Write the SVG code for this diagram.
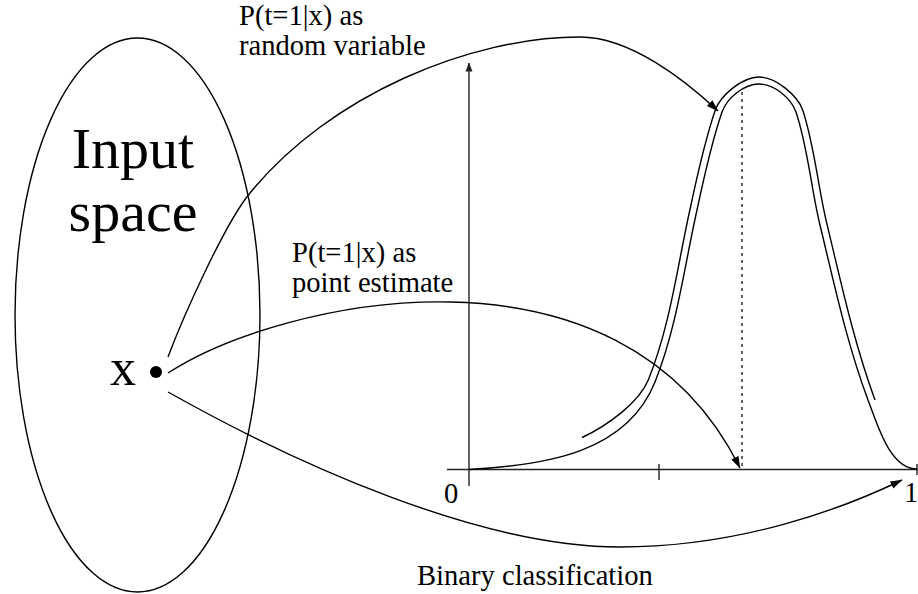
<svg xmlns="http://www.w3.org/2000/svg" width="918" height="594" viewBox="0 0 918 594">
<style>
.ln{fill:none;stroke:#000;stroke-width:1.4}
.ax{fill:none;stroke:#222;stroke-width:1.4}
.t{font-family:"Liberation Serif","Times New Roman",serif;fill:#000}
.lbl{font-size:28.6px}
</style>
<defs>
<marker id="ah" markerUnits="userSpaceOnUse" markerWidth="12" markerHeight="10" viewBox="0 0 12 10" refX="11.5" refY="5" orient="auto"><path d="M0,1 L12,5 L0,9 z" fill="#000"/></marker>
<marker id="ah2" markerUnits="userSpaceOnUse" markerWidth="9" markerHeight="8" viewBox="0 0 9 8" refX="8.5" refY="4" orient="auto"><path d="M0,0.5 L9,4 L0,7.5 z" fill="#222"/></marker>
</defs>
<rect width="918" height="594" fill="#fff"/>
<g id="input-space">
<ellipse cx="137.5" cy="315" rx="122.5" ry="277" class="ln"/>
<text class="t" x="133" y="168" font-size="58" text-anchor="middle">Input</text>
<text class="t" x="133" y="231" font-size="58" text-anchor="middle">space</text>
</g>
<g id="x-point">
<text class="t" x="110" y="385" font-size="52">x</text>
<circle cx="156" cy="372" r="6" fill="#000"/>
</g>
<g id="axes">
<line x1="447" y1="469.5" x2="917" y2="469.5" class="ax"/>
<line x1="469" y1="486" x2="469" y2="63" class="ax" marker-end="url(#ah2)"/>
<line x1="659" y1="464" x2="659" y2="480" class="ax"/>
<line x1="917" y1="464" x2="917" y2="475" class="ax"/>
<line x1="742" y1="92" x2="742" y2="469" class="ax" stroke-dasharray="3,4"/>
<text class="t lbl" x="444" y="503">0</text>
<text class="t lbl" x="904" y="502">1</text>
</g>
<g id="density">
<path class="ln" d="M469,469.5 C548,465 627,452 655,382 C677,327 684,268 697,210 C704,177 711,144 722,112 C727,98 744,84 759,84 C774,84 791,98 796,112 C808,148 811,188 820,225 C834,283 847,344 868,400 C878,426 890,469 917,469"/>
<path class="ln" d="M582,437.5 C607,426 639,402.7 648.5,379.4 C670.5,324.4 677.2,266.5 690.2,208.5 C697.2,175.5 704.4,141.8 715.4,109.8 C720.4,95.8 742,77 759,77 C776,77 797.6,95.8 802.6,109.8 C814.6,145.8 817.8,186.4 826.8,223.4 C840.8,281.4 853.6,341.6 875,400"/>
</g>
<g id="connectors">
<path class="ln" marker-end="url(#ah)" d="M168,357 C183,317 225,223 250,193 C330,95 470,37 580,37 C630,37 685,80 718,111"/>
<path class="ln" marker-end="url(#ah)" d="M168,373 C280,300 620,225 740,468"/>
<path class="ln" marker-end="url(#ah)" d="M168,392 C298,465 480,547 620,547 C740,547 842,509 902,480"/>
</g>
<g id="labels">
<text class="t lbl" x="239" y="25">P(t=1|x) as</text>
<text class="t lbl" x="239" y="55">random variable</text>
<text class="t lbl" x="292" y="262">P(t=1|x) as</text>
<text class="t lbl" x="292" y="292">point estimate</text>
<text class="t lbl" x="417" y="585">Binary classification</text>
</g>
</svg>
